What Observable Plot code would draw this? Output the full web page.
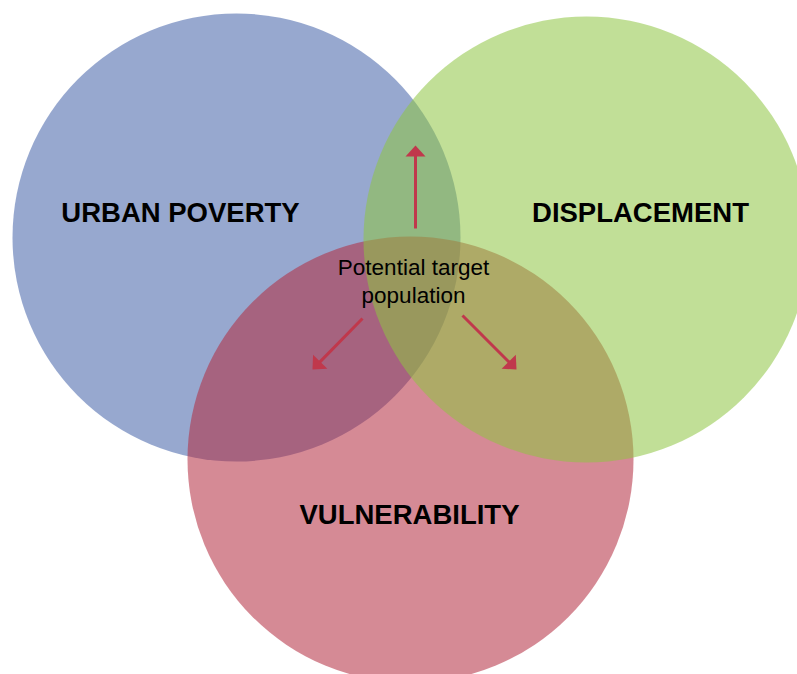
<!DOCTYPE html>
<html><head><meta charset="utf-8">
<script src="https://cdn.jsdelivr.net/npm/d3@7"></script>
<script src="https://cdn.jsdelivr.net/npm/@observablehq/plot@0.6"></script>
<style>html,body{margin:0;padding:0;background:#fff;overflow:hidden}#chart svg{overflow:hidden}</style>
</head><body><div id="chart"></div>
<script>
// Sets of the Venn diagram (drawn bottom to top)
const setNames  = ["URBAN POVERTY", "VULNERABILITY", "DISPLACEMENT"];
const setColors = ["#4261a8", "#b32a3e", "#8ec542"];
const setCx     = [236, 410, 586];
const setCy     = [237, 459, 239];
const setR      = [224, 223, 223];
const labelX    = [180, 409, 640];
const labelY    = [221, 523, 221];

// Central annotation
const centerText = "Potential target\npopulation";
const centerTextX = 413;
const centerTextY = 302;

// Arrows out of the centre
const arrowX1 = [415, 362, 462];
const arrowY1 = [228, 318, 315];
const arrowX2 = [415, 312, 516];
const arrowY2 = [145, 369, 369];

const W = 797, H = 674;
const arrowColor = "#c0384c";
const headLen = 11;

const sets = setNames.map((name, i) => ({name, color: setColors[i], cx: setCx[i], cy: setCy[i], r: setR[i], lx: labelX[i], ly: labelY[i]}));
const arrows = arrowX1.map((x1, i) => {
  const x2 = arrowX2[i], y2 = arrowY2[i];
  const dx = x2 - x1, dy = y2 - arrowY1[i];
  const len = Math.hypot(dx, dy);
  return {
    x1, y1: arrowY1[i], x2, y2,
    xb: x2 - dx / len * (headLen - 1), yb: y2 - dy / len * (headLen - 1),
    angle: Math.atan2(dx, -dy) * 180 / Math.PI
  };
});

const headSymbol = {
  draw(context) {
    context.moveTo(0, 0);
    context.lineTo(-10, headLen);
    context.lineTo(10, headLen);
    context.closePath();
  }
};

const plot = Plot.plot({
  width: W, height: H,
  margin: 0,
  x: {domain: [0, W], range: [0, W], axis: null},
  y: {domain: [0, H], range: [0, H], axis: null},
  r: {type: "identity"},
  style: {background: "white", fontFamily: "'Liberation Sans', Arial, Helvetica, sans-serif"},
  marks: [
    Plot.dot(sets, {x: "cx", y: "cy", r: "r", fill: "color", fillOpacity: 0.55, stroke: "none", sort: null}),
    Plot.link(arrows, {x1: "x1", y1: "y1", x2: "xb", y2: "yb", stroke: arrowColor, strokeWidth: 3}),
    Plot.dot(arrows, {x: "x2", y: "y2", symbol: headSymbol, rotate: "angle", fill: arrowColor, stroke: "none", r: 5}),
    Plot.text(sets, {x: "lx", y: "ly", text: "name", fontSize: 27.5, fontWeight: "bold", fill: "#000", lineAnchor: "bottom"}),
    Plot.text([centerText], {x: () => centerTextX, y: () => centerTextY, text: d => d, fontSize: 22.5, lineHeight: 1.24, fill: "#000", lineAnchor: "bottom"})
  ]
});
document.getElementById("chart").appendChild(plot);
</script>
</body></html>
